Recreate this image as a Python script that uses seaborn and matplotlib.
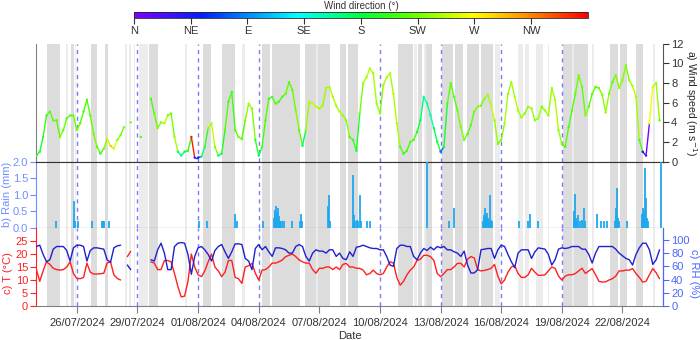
import matplotlib
matplotlib.use("Agg")
import matplotlib.pyplot as plt
import matplotlib.dates as mdates
from matplotlib.collections import LineCollection
from matplotlib.colors import LinearSegmentedColormap, Normalize
import numpy as np
import pandas as pd
import seaborn as sns

sns.set_style("ticks")
plt.rcParams["font.family"] = ["Liberation Sans", "DejaVu Sans"]
plt.rcParams["font.size"] = 8

nan = np.nan

# --- 4-hourly series from 24/07/2024 00:00
start = pd.Timestamp("2024-07-24")
times = pd.date_range(start, periods=186, freq="4h")

wind_speed = [
    0.6, 1.0, 2.5, 4.7, 5.1, 4.2, 4.2, 2.5, 3.2, 4.4, 4.7, 4.7,
    3.2, 3.9, 5.1, 6.3, 4.7, 2.8, 1.5, 0.8, 1.3, 2.3, 1.6, 1.3,
    2.2, 2.7, 3.5, nan, 4.0, nan, nan, 2.5, nan, nan, 6.4, 4.9,
    3.4, 4.0, 3.9, 4.7, 4.9, 2.5, 1.0, 0.6, 1.0, 1.1, 2.5, 0.4,
    0.4, 0.5, 1.5, 3.4, 3.9, 1.5, 0.6, 0.8, 3.2, 6.1, 7.1, 3.2,
    2.5, 2.3, 4.2, 5.9, 5.4, 2.2, 0.6, 1.5, 4.2, 6.4, 6.6, 5.9,
    6.1, 6.6, 6.9, 8.1, 7.3, 5.2, 3.2, 1.6, 3.2, 6.1, 5.9, 5.6,
    5.4, 5.7, 7.5, 7.6, 6.6, 5.7, 5.1, 4.7, 4.2, 2.5,
    2.2, 1.1, 4.9, 8.0, 8.6, 9.5, 9.0, 5.9, 4.9, 7.8, 8.6, 9.0,
    6.9, 3.9, 1.5, 0.8, 1.1, 2.0, 2.2, 3.0, 4.2, 6.6, 5.9, 4.7,
    3.4, 2.0, 1.0, 1.5, 5.9, 8.0, 6.6, 5.2, 3.5, 2.2, 2.8, 3.7,
    5.1, 5.6, 5.7, 6.4, 6.8, 5.7, 4.2, 1.8, 2.2, 3.9, 6.9,
    8.1, 6.6, 5.2, 4.5, 4.9, 5.6, 5.4, 4.2, 4.4, 5.6, 5.2, 4.7,
    7.5, 6.3, 3.2, 1.8, 1.5, 3.5, 5.2, 6.9, 8.8, 7.6, 4.7, 5.6,
    6.9, 7.6, 7.5, 6.8, 5.0, 6.9, 8.1, 8.8, 7.5, 8.3, 9.8, 8.3,
    7.7, 6.6, 2.2, 1.0, 0.6, 3.9, 7.6, 8.0, 4.2,
]

wind_dir = [
    200, 190, 205, 210, 215, 220, 215, 225, 220, 210, 215, 220,
    225, 215, 210, 215, 220, 225, 215, 200, 230, 250, 290, 260,
    235, 225, 225, 225, 225, 220, 220, 215, 215, 215, 210, 220,
    230, 235, 245, 230, 225, 240, 170, 160, 175, 200, 350, 35,
    60, 170, 200, 240, 250, 230, 165, 190, 215, 210, 205, 215,
    225, 215, 230, 240, 230, 200, 170, 210, 215, 205, 210, 215,
    210, 215, 220, 215, 220, 230, 215, 175, 235, 245, 250, 245,
    240, 235, 240, 245, 245, 240, 245, 235, 230, 215,
    200, 190, 225, 240, 245, 245, 240, 235, 230, 240, 245, 240,
    245, 240, 215, 200, 210, 215, 210, 190, 170, 150, 160, 150,
    175, 190, 80, 190, 215, 220, 215, 225, 230, 225, 215, 220,
    225, 230, 225, 235, 240, 250, 235, 225, 230, 240, 235,
    240, 245, 240, 235, 230, 240, 235, 230, 235, 230, 240, 235,
    240, 245, 235, 220, 215, 210, 215, 220, 225, 220, 230, 215,
    220, 215, 225, 230, 235, 225, 220, 230, 235, 230, 225, 235,
    245, 240, 210, 40, 5, 265, 250, 235, 220,
]

temp = [
    14.0, 9.5, 13.5, 17.0, 16.0, 14.5, 14.0, 13.8, 14.0, 15.0, 17.0, 12.5,
    10.6, 10.5, 11.0, 16.5, 13.0, 12.3, 12.3, 12.4, 12.6, 16.5, 17.0, 12.0,
    10.6, 10.0, nan, 19.0, 21.0, nan, nan, nan, nan, nan, 17.0, 16.5,
    14.0, 14.0, 17.5, 17.5, 17.0, 12.5, 7.5, 3.5, 3.8, 9.5, 20.0, 15.0,
    12.0, 11.3, 13.5, 17.0, 20.0, 15.0, 13.5, 11.3, 13.0, 17.5, 17.5, 11.0,
    10.5, 8.7, 15.0, 15.5, 16.4, 12.6, 10.0, 13.8, 14.0, 15.0, 16.5, 16.5,
    17.0, 17.7, 19.0, 19.5, 20.0, 19.0, 17.7, 17.0, 16.5, 16.5, 14.0, 12.6,
    14.5, 14.5, 15.0, 15.0, 14.0, 15.0, 14.0, 16.0, 16.4, 15.0,
    15.0, 14.5, 14.5, 13.8, 12.0, 12.5, 13.8, 12.5, 12.0, 12.5, 15.0, 17.0,
    16.5, 11.0, 8.0, 9.5, 12.0, 13.8, 15.0, 17.5, 18.0, 19.5, 19.5, 19.0,
    17.5, 12.5, 11.3, 12.5, 14.0, 14.0, 15.0, 16.4, 16.4, 15.0, 18.0, 19.0,
    18.5, 14.0, 13.5, 13.7, 14.0, 14.5, 16.0, 11.5, 8.5, 10.0, 13.0,
    15.0, 15.5, 12.5, 11.0, 11.0, 12.0, 14.5, 13.0, 11.8, 11.8, 12.0, 13.5,
    15.0, 14.5, 11.5, 10.0, 11.5, 12.0, 12.0, 12.5, 13.5, 14.5, 12.5, 13.5,
    14.4, 12.0, 9.5, 9.2, 9.3, 10.0, 10.5, 11.5, 13.5, 13.5, 13.8, 13.8,
    14.4, 12.5, 11.0, 9.2, 9.5, 12.0, 14.4, 12.8, 10.5,
]

rh = [
    90, 92, 78, 67, 70, 86, 90, 90, 90, 84, 68, 88,
    92, 92, 90, 68, 84, 88, 88, 87, 86, 70, 66, 88,
    91, 92, nan, 62, 55, nan, nan, nan, nan, nan, 70, 68,
    85, 95, 80, 55, 55, 90, 95, 96, 95, 78, 48, 75,
    88, 90, 85, 78, 68, 84, 90, 93, 82, 72, 82, 94,
    94, 93, 72, 68, 55, 87, 93, 85, 90, 82, 75, 88,
    88, 87, 85, 80, 80, 90, 93, 90, 75, 68, 80, 85,
    83, 83, 80, 85, 85, 75, 80, 72, 70, 82,
    75, 89, 90, 92, 90, 88, 87, 87, 85, 85, 75, 62,
    60, 87, 92, 92, 90, 90, 75, 70, 80, 87, 84, 89,
    85, 90, 88, 90, 85, 85, 82, 80, 75, 83, 62, 50,
    50, 55, 85, 86, 87, 87, 72, 85, 92, 90, 78,
    67, 58, 80, 85, 85, 85, 72, 82, 88, 87, 86, 78,
    62, 70, 86, 88, 87, 88, 90, 90, 90, 86, 86, 78,
    65, 80, 90, 90, 90, 90, 90, 86, 80, 76, 72, 70,
    62, 78, 88, 95, 95, 85, 63, 70, 85,
]

# --- rain events (days after 24/07 00:00, mm)
rain_day = [
    0.96, 1.85, 1.88, 1.93, 2.05, 2.76, 3.23, 3.28, 3.33, 3.58,
    8.05, 8.45, 9.83, 9.93, 11.21,
    11.75, 11.79, 11.83, 11.87, 11.91, 11.95, 11.99, 12.03, 12.07, 12.17, 12.25,
    12.65, 13.03, 13.07, 13.12, 14.45, 14.49, 14.53,
    15.68, 15.72, 15.78, 15.85, 15.93, 16.02, 16.06, 16.38, 16.52,
    19.32, 20.44, 20.64,
    22.12, 22.16, 22.20, 22.24, 22.28, 22.32, 22.36, 22.40, 22.45, 22.50, 22.55,
    23.87, 24.33, 24.42, 24.83,
    26.58, 26.62, 26.66, 26.70, 26.75, 26.80, 26.88, 27.00, 27.10, 27.14,
    27.76, 27.93, 28.10, 28.23,
    28.62, 28.66, 28.70, 28.74, 28.78, 28.84, 29.20,
    29.95, 29.99, 30.03, 30.07, 30.11, 30.15, 30.20, 30.24, 30.93,
]
rain_mm = [
    0.22, 0.8, 0.2, 0.2, 0.2, 0.2, 0.2, 0.2, 0.2, 0.2,
    0.2, 0.2, 0.43, 0.2, 0.2,
    0.3, 0.45, 0.55, 0.65, 0.45, 0.6, 0.35, 0.2, 0.2, 0.2, 0.2,
    0.2, 0.2, 0.42, 0.2, 0.65, 1.0, 0.2,
    1.6, 0.4, 0.2, 0.25, 0.2, 1.0, 0.2, 0.2, 0.2,
    2.0, 0.2, 0.6,
    0.2, 0.4, 0.6, 0.35, 0.45, 0.2, 0.3, 0.2, 1.0, 0.25, 0.2,
    0.2, 0.2, 0.42, 0.2,
    0.25, 0.5, 1.02, 0.3, 0.2, 0.4, 0.2, 0.25, 0.6, 0.2,
    0.42, 0.2, 0.2, 0.2,
    0.2, 0.42, 0.6, 1.2, 0.3, 0.2, 0.2,
    0.2, 0.42, 0.6, 0.5, 1.8, 0.9, 0.3, 0.2, 2.0,
]

# --- shaded periods (days after 24/07 00:00)
dark_bands = [
    (0.5, 1.18), (1.72, 1.86), (2.68, 3.02), (3.38, 3.54), (5.57, 6.0),
    (8.26, 8.62), (9.17, 9.84), (11.15, 11.56), (11.64, 13.04), (13.3, 13.85),
    (13.92, 14.53), (15.02, 15.3), (15.4, 15.93), (17.9, 18.65), (18.9, 19.1),
    (19.3, 19.56), (20.06, 20.63), (20.7, 21.1), (21.3, 21.9), (22.0, 22.6),
    (26.08, 26.5), (26.6, 27.3), (28.39, 28.79), (28.87, 29.2), (29.69, 30.02),
]
light_bands = [
    (1.45, 1.55), (1.9, 1.95), (4.38, 4.47), (4.6, 4.7), (4.85, 4.9),
    (5.1, 5.5), (7.35, 7.45), (10.17, 10.34), (13.85, 13.92), (18.7, 18.85),
    (19.2, 19.3), (22.7, 22.95), (23.84, 24.08), (24.2, 24.35), (24.74, 25.07),
    (25.3, 25.35), (26.5, 26.6), (27.5, 27.6), (30.5, 30.6),
]

marker_dates = ["2024-07-26", "2024-07-29", "2024-08-01", "2024-08-04",
                "2024-08-10", "2024-08-13", "2024-08-16", "2024-08-19"]
tick_dates = pd.date_range("2024-07-26", "2024-08-22", freq="3D")
compass = ["N", "NE", "E", "SE", "S", "SW", "W", "NW"]
compass_deg = [0, 45, 90, 135, 180, 225, 270, 315]

# --- colours
cmap = LinearSegmentedColormap.from_list("wdir", [
    (0.0, "#7f00ff"), (0.15, "#0020ff"), (0.36, "#00ffff"), (0.5, "#00ff40"),
    (0.6, "#55ff00"), (0.75, "#ffff00"), (0.88, "#ff8000"), (1.0, "#ff0000")])
norm = Normalize(0, 360)
rain_col = "#1ea8ee"
rain_axis = "#6f8fff"
t_col = "#ff2020"
rh_col = "#2020d0"
rh_axis = "#4d66ff"

fig = plt.figure(figsize=(7, 3.4), dpi=100)
axa = fig.add_axes([0.052, 0.525, 0.895, 0.346])
axb = fig.add_axes([0.052, 0.3294, 0.895, 0.1956], sharex=axa)
axc = fig.add_axes([0.052, 0.10, 0.895, 0.2294], sharex=axa)
cax = fig.add_axes([0.1914, 0.9485, 0.6486, 0.016])

day0 = mdates.date2num(start)
for ax in (axa, axb, axc):
    for s, e in dark_bands:
        ax.axvspan(day0 + s, day0 + e, color="#dcdcdc", lw=0, zorder=0)
    for s, e in light_bands:
        ax.axvspan(day0 + s, day0 + e, color="#ececec", lw=0, zorder=0)
    for d in marker_dates:
        ax.axvline(pd.Timestamp(d), color="#7a7aff", lw=1, ls=(0, (3, 3)), zorder=1)

# --- a) wind speed coloured by direction
xs = mdates.date2num(times)
ws = np.array(wind_speed, dtype=float)
wd = np.array(wind_dir, dtype=float)
segs, cols = [], []
for i in range(len(xs) - 1):
    if np.isfinite(ws[i]) and np.isfinite(ws[i + 1]):
        segs.append([(xs[i], ws[i]), (xs[i + 1], ws[i + 1])])
        cols.append(wd[i])
lc = LineCollection(segs, cmap=cmap, norm=norm, linewidths=1.0, zorder=3)
lc.set_array(np.array(cols))
axa.add_collection(lc)
sns.scatterplot(x=times, y=ws, hue=wd, palette=cmap, hue_norm=(0, 360), s=3,
                linewidth=0, legend=False, ax=axa, zorder=3)
axa.set_ylim(0, 12)
axa.set_yticks(range(0, 13, 2))
axa.yaxis.tick_right()
axa.yaxis.set_label_position("right")
axa.set_ylabel("a) Wind speed (m s$^{-1}$)", rotation=270, fontsize=7.5)
axa.yaxis.set_label_coords(1.045, 0.5)
axa.yaxis.label.set_va("center")
axa.tick_params(axis="y", colors="#333333", labelsize=8, length=4, pad=2)
axa.tick_params(axis="x", bottom=False, labelbottom=False)
axa.spines["top"].set_visible(False)
axa.spines["left"].set_color("#808080")
axa.spines["right"].set_color("#555555")
axa.spines["bottom"].set_color("#333333")

# --- b) rain
rain_x = [start + pd.Timedelta(days=d) for d in rain_day]
axb.vlines(rain_x, 0, rain_mm, color=rain_col, lw=1.3, zorder=3)
axb.set_ylim(0, 2.0)
axb.set_yticks([0, 0.5, 1.0, 1.5, 2.0])
axb.yaxis.set_major_formatter(matplotlib.ticker.FormatStrFormatter("%.1f"))
axb.set_ylabel("b) Rain (mm)", color=rain_axis, fontsize=8)
axb.yaxis.set_label_coords(-0.047, 0.5)
axb.yaxis.label.set_va("center")
axb.tick_params(axis="y", colors=rain_axis, labelsize=8, length=4, pad=2)
axb.tick_params(axis="x", bottom=False, labelbottom=False)
axb.spines["right"].set_visible(False)
axb.spines["left"].set_color(rain_axis)
axb.spines["top"].set_color("#333333")
axb.spines["bottom"].set_color("#333333")

# --- c) temperature and relative humidity
df = pd.DataFrame({"time": times, "T": temp, "RH": rh})
df["seg_t"] = df["T"].isna().cumsum()
df["seg_rh"] = df["RH"].isna().cumsum()
sns.lineplot(data=df.dropna(subset=["T"]), x="time", y="T", units="seg_t",
             estimator=None, color=t_col, lw=1, ax=axc, zorder=3)
axr = axc.twinx()
sns.lineplot(data=df.dropna(subset=["RH"]), x="time", y="RH", units="seg_rh",
             estimator=None, color=rh_col, lw=1, ax=axr, zorder=3)
axc.set_ylim(0, 30)
axc.set_yticks(range(0, 26, 5))
axr.set_ylim(0, 118)
axr.set_yticks(range(0, 101, 20))
axc.set_ylabel("c) T (°C)", color=t_col, fontsize=8)
axc.yaxis.set_label_coords(-0.045, 0.42)
axc.yaxis.label.set_va("center")
axr.set_ylabel("c) RH (%)", color=rh_axis, fontsize=8, rotation=270)
axr.yaxis.set_label_coords(1.049, 0.42)
axr.yaxis.label.set_va("center")
axc.tick_params(axis="y", colors=t_col, labelsize=8, length=4, pad=2)
axr.tick_params(axis="y", colors=rh_axis, labelsize=8, length=4, pad=2)
for ax in (axc, axr):
    ax.spines["top"].set_visible(False)
axc.spines["left"].set_color(t_col)
axr.spines["left"].set_visible(False)
axr.spines["right"].set_color(rh_axis)
axr.spines["bottom"].set_visible(False)
axc.spines["bottom"].set_color("#808080")
axc.set_xticks(tick_dates)
axc.xaxis.set_major_formatter(mdates.DateFormatter("%d/%m/%Y"))
axc.tick_params(axis="x", colors="#808080", labelcolor="#333333", labelsize=8, length=5)
axc.set_xlabel("Date", fontsize=8, color="#333333", labelpad=2)
axc.set_xlim(start, start + pd.Timedelta(days=31))

# --- wind direction colour bar
sm = plt.cm.ScalarMappable(norm=norm, cmap=cmap)
cb = fig.colorbar(sm, cax=cax, orientation="horizontal")
cb.set_ticks(compass_deg)
cb.set_ticklabels(compass)
cb.outline.set_linewidth(0.6)
cax.tick_params(labelsize=8, length=4, colors="#333333", pad=2)
cax.set_title("Wind direction (°)", fontsize=7, pad=2, color="#333333")

fig.savefig("out.png", dpi=100)
